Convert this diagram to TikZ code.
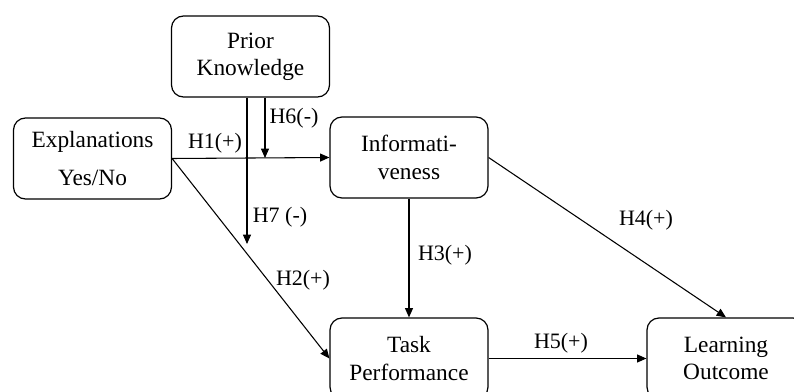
\documentclass[tikz,border=0pt]{standalone}
\usepackage{fontspec}
\setmainfont{Liberation Serif}
\usepackage{tikz}
\usetikzlibrary{arrows.meta}

\tikzset{
  factor/.style={draw, line width=0.9pt, rounded corners=9pt, minimum width=118.5pt,
    minimum height=60.75pt, align=center, inner sep=2pt, font=\fontsize{17.5}{20.5}\selectfont},
  hyp/.style={font=\fontsize{16.5}{19}\selectfont, inner sep=1pt},
  path/.style={line width=0.8pt, -{Triangle[length=7pt,width=6pt]}}
}

\begin{document}
\begin{tikzpicture}[x=0.75pt, y=-0.75pt]
        \clip (0,0) rectangle (794,392);

        % Draw the factors
        \node[factor] (pk) at (250.5,56.5) {Prior\\Knowledge};
        \node[factor] (ex) at (92.5,158.5) {Explanations\\[8pt]Yes/No};
        \node[factor] (inf) at (409,157.5) {Informati-\\veness};
        \node[factor] (tp) at (409,358.5) {Task\\Performance};
        \node[factor] (lo) at (726,358.5) {Learning\\Outcome};

        % Free ends of the moderating arrows
        \coordinate (h6end) at (265,158);
        \coordinate (h7end) at (247,244);

        % Draw the paths
        \draw[path] (ex.east) -- (inf.west);
        \draw[path] (ex.east) -- (tp.west);
        \draw[path] (inf.south) -- (tp.north);
        \draw[path] (inf.east) -- (lo.north);
        \draw[path] (tp.east) -- (lo.west);
        \draw[path] (pk.south -| h6end) -- (h6end);
        \draw[path] (pk.south -| h7end) -- (h7end);

        % Label the hypotheses
        \node[hyp] (h1) at (215,143) {H1(+)};
        \node[hyp] (h2) at (303,280) {H2(+)};
        \node[hyp] (h3) at (445,255) {H3(+)};
        \node[hyp] (h4) at (646,220) {H4(+)};
        \node[hyp] (h5) at (561,343) {H5(+)};
        \node[hyp] (h6) at (294,118) {H6(-)};
        \node[hyp] (h7) at (280,217) {H7 (-)};
    \end{tikzpicture}
\end{document}
